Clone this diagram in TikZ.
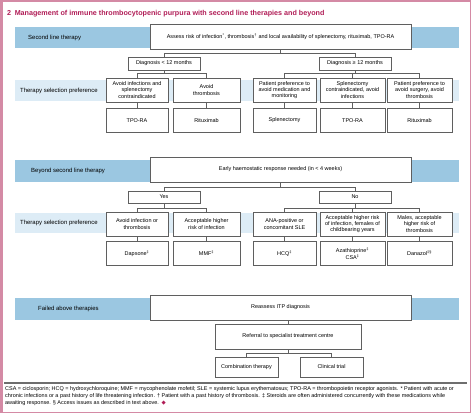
\documentclass[tikz,border=0pt]{standalone}
\usepackage{fontspec}
\setmainfont{Liberation Sans}
\newfontfamily\symfont{DejaVu Sans}
\usetikzlibrary{positioning}
\definecolor{titlepink}{RGB}{176,28,86}
\definecolor{framepink}{RGB}{212,138,165}
\definecolor{bandblue}{RGB}{155,199,225}
\definecolor{lightband}{RGB}{221,236,246}
\definecolor{boxgray}{RGB}{95,95,95}
\definecolor{rulegray}{RGB}{110,110,110}

\begin{document}
\begin{tikzpicture}[
            x=1bp, y=-1bp,
            band/.style={fill=bandblue, draw=none},
            subband/.style={fill=lightband, draw=none},
            bandlabel/.style={anchor=west, inner sep=0pt, font=\fontsize{6}{7}\selectfont},
            box/.style={rectangle, draw=boxgray, fill=white, line width=0.5bp,
                        align=center, inner sep=1bp, font=\fontsize{5.5}{6.3}\selectfont},
            wide/.style={box, minimum width=261bp, minimum height=25bp},
            diag/.style={box, minimum width=72bp, minimum height=12.5bp},
            pref/.style={box, minimum height=24bp},
            conn/.style={draw=boxgray, line width=0.5bp}
        ]
            \useasboundingbox (0,0) rectangle (474,413);
            \draw[framepink, line width=1.5bp] (1.5,0.75) rectangle (470.5,412.25);
            \fill[framepink] (0,0) rectangle (3,413);

            \node[anchor=west, inner sep=0pt, text=titlepink, font=\fontsize{7.2}{9}\selectfont\bfseries] (title) at (7,14)
                {2\enspace Management of immune thrombocytopenic purpura with second line therapies and beyond};

            % Second line therapy
            \fill[band] (15,27) rectangle (459,48);
            \node[bandlabel] (secondlbl) at (28,37.5) {Second line therapy};
            \node[wide] (assess) at (280.5,36.5)
                {Assess risk of infection\textsuperscript{*}, thrombosis\textsuperscript{\dag} and local availability of splenectomy, rituximab, TPO-RA};

            \node[diag] (diagless) at (164,63.5) {Diagnosis < 12 months};
            \node[diag] (diagmore) at (355,63.5) {Diagnosis ≥ 12 months};

            \fill[subband] (15,80) rectangle (459,101);
            \node[bandlabel] (preflblA) at (20,90.5) {Therapy selection preference};

            \node[pref, minimum width=62bp] (infA) at (137,90) {Avoid infections and\\splenectomy\\contraindicated};
            \node[pref, minimum width=67bp] (thrA) at (206.5,90) {Avoid\\thrombosis};
            \node[pref, minimum width=63bp] (medA) at (284.5,90) {Patient preference to\\avoid medication and\\monitoring};
            \node[pref, minimum width=65bp] (splA) at (352.5,90) {Splenectomy\\contraindicated, avoid\\infections};
            \node[pref, minimum width=65bp] (surA) at (419.5,90) {Patient preference to\\avoid surgery, avoid\\thrombosis};

            \node[pref, minimum width=62bp, below=6bp of infA] (tpoA) {TPO-RA};
            \node[pref, minimum width=67bp, below=6bp of thrA] (ritA) {Rituximab};
            \node[pref, minimum width=63bp, below=6bp of medA] (splen) {Splenectomy};
            \node[pref, minimum width=65bp, below=6bp of splA] (tpoB) {TPO-RA};
            \node[pref, minimum width=65bp, below=6bp of surA] (ritB) {Rituximab};

            \draw[conn] (assess.south) -- ++(0,4) -| (diagless.north);
            \draw[conn] (assess.south) ++(0,4) -| (diagmore.north);
            \draw[conn] (diagless.south) -- ++(0,3) -| (infA.north);
            \draw[conn] (diagless.south) ++(0,3) -| (thrA.north);
            \draw[conn] (diagmore.south) -- ++(0,3) -| (medA.north);
            \draw[conn] (diagmore.south) ++(0,3) -| (splA.north);
            \draw[conn] (diagmore.south) ++(0,3) -| (surA.north);
            \foreach \a/\b in {infA/tpoA, thrA/ritA, medA/splen, splA/tpoB, surA/ritB}
                \draw[conn] (\a) -- (\b);

            % Beyond second line therapy
            \fill[band] (15,160) rectangle (459,182);
            \node[bandlabel] (beyondlbl) at (31,171) {Beyond second line therapy};
            \node[wide] (early) at (280.5,169.5) {Early haemostatic response needed (in < 4 weeks)};

            \node[diag] (yes) at (164,197) {Yes};
            \node[diag] (no) at (355,197) {No};

            \fill[subband] (15,213) rectangle (459,233);
            \node[bandlabel] (preflblB) at (20,223) {Therapy selection preference};

            \node[pref, minimum width=62bp] (infB) at (137,224) {Avoid infection or\\thrombosis};
            \node[pref, minimum width=67bp] (riskB) at (206.5,224) {Acceptable higher\\risk of infection};
            \node[pref, minimum width=63bp] (ana) at (284.5,224) {ANA-positive or\\concomitant SLE};
            \node[pref, minimum width=65bp] (female) at (352.5,224) {Acceptable higher risk\\of infection, females of\\childbearing years};
            \node[pref, minimum width=65bp] (male) at (419.5,224) {Males, acceptable\\higher risk of\\thrombosis};

            \node[pref, minimum width=62bp, below=5bp of infB] (dapsone) {Dapsone\textsuperscript{\ddag}};
            \node[pref, minimum width=67bp, below=5bp of riskB] (mmf) {MMF\textsuperscript{\ddag}};
            \node[pref, minimum width=63bp, below=5bp of ana] (hcq) {HCQ\textsuperscript{\ddag}};
            \node[pref, minimum width=65bp, below=5bp of female] (aza) {Azathioprine\textsuperscript{\ddag}\\CSA\textsuperscript{\ddag}};
            \node[pref, minimum width=65bp, below=5bp of male] (danazol) {Danazol\textsuperscript{\ddag\S}};

            \draw[conn] (early.south) -- ++(0,4.5) -| (yes.north);
            \draw[conn] (early.south) ++(0,4.5) -| (no.north);
            \draw[conn] (yes.south) -- ++(0,4.5) -| (infB.north);
            \draw[conn] (yes.south) ++(0,4.5) -| (riskB.north);
            \draw[conn] (no.south) -- ++(0,4.5) -| (ana.north);
            \draw[conn] (no.south) ++(0,4.5) -| (female.north);
            \draw[conn] (no.south) ++(0,4.5) -| (male.north);
            \foreach \a/\b in {infB/dapsone, riskB/mmf, ana/hcq, female/aza, male/danazol}
                \draw[conn] (\a) -- (\b);

            % Failed above therapies
            \fill[band] (15,298) rectangle (459,320);
            \node[bandlabel] (failedlbl) at (38,309) {Failed above therapies};
            \node[wide] (reassess) at (280.5,307.5) {Reassess ITP diagnosis};
            \node[box, minimum width=146bp, minimum height=25bp] (referral) at (288,336.5) {Referral to specialist treatment centre};
            \node[box, minimum width=63bp, minimum height=20bp] (combo) at (246.5,367) {Combination therapy};
            \node[box, minimum width=63bp, minimum height=20bp] (trial) at (331.5,367) {Clinical trial};

            \draw[conn] (referral.north) -- (referral.north |- reassess.south);
            \draw[conn] (referral.south) -- ++(0,4) -| (combo.north);
            \draw[conn] (referral.south) ++(0,4) -| (trial.north);

            % footnote
            \draw[rulegray, line width=1.2bp] (4,383) -- (467,383);
            \node[anchor=north west, inner sep=0pt, align=left, font=\fontsize{5.5}{7}\selectfont] (notes) at (5,386)
                {CSA = ciclosporin; HCQ = hydroxychloroquine; MMF = mycophenolate mofetil; SLE = systemic lupus erythematosus; TPO-RA = thrombopoietin receptor agonists. * Patient with acute or\\
                 chronic infections or a past history of life threatening infection. † Patient with a past history of thrombosis. ‡ Steroids are often administered concurrently with these medications while\\
                 awaiting response. § Access issues as described in text above.\enspace{\symfont\textcolor{titlepink}{◆}}};
        \end{tikzpicture}
\end{document}
